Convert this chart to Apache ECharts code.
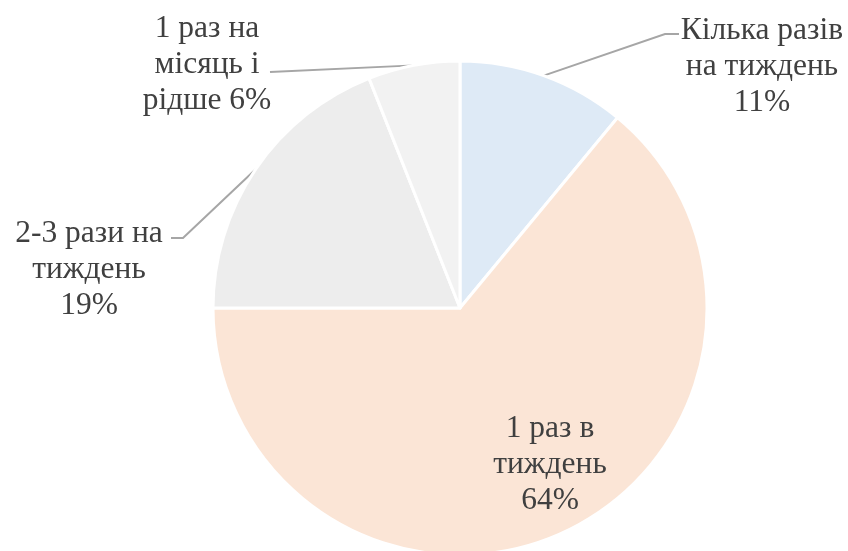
<!DOCTYPE html>
<html>
<head>
<meta charset="utf-8">
<script src="https://cdn.jsdelivr.net/npm/echarts@6/dist/echarts.min.js"></script>
<style>
  html, body { margin: 0; padding: 0; background: #ffffff; }
  #chart { width: 848px; height: 551px; }
</style>
</head>
<body>
<div id="chart"></div>
<script>
// Survey shares: how often respondents do it
const categories = ['Кілька разів на тиждень', '1 раз в тиждень', '2-3 рази на тиждень', '1 раз на місяць і рідше'];
const shares = [11, 64, 19, 6];
// Label wording with the line breaks used on the chart
const labelTexts = ['Кілька разів\nна тиждень\n', '1 раз в\nтиждень\n', '2-3 рази на\nтиждень\n', '1 раз на\nмісяць і\nрідше '];
const colors = ['#DEEAF6', '#FBE5D6', '#EDEDED', '#F2F2F2'];

// Where each label sits and where its leader line bends
const labelSpots = [
  { x: 762, y: 67, bend: [[665, 34], [679, 34]] },
  { x: 550, y: 465, bend: null },
  { x: 89, y: 270, bend: [[183, 238], [171, 238]] },
  { x: 207, y: 65, bend: [[270, 72]] }
];

const chart = echarts.init(document.getElementById('chart'), null, { renderer: 'canvas' });

chart.setOption({
  animation: false,
  backgroundColor: '#ffffff',
  series: [{
    type: 'pie',
    center: [460, 308],
    radius: [0, 247],
    startAngle: 90,
    clockwise: true,
    avoidLabelOverlap: false,
    itemStyle: { borderColor: '#ffffff', borderWidth: 3 },
    label: {
      show: true,
      position: 'outside',
      fontFamily: '"Liberation Serif", "Times New Roman", serif',
      fontSize: 31.5,
      lineHeight: 36,
      color: '#404040',
      align: 'center',
      formatter: p => labelTexts[p.dataIndex] + p.value + '%'
    },
    labelLine: {
      show: true,
      length: 20,
      length2: 20,
      lineStyle: { color: '#a6a6a6', width: 2 }
    },
    labelLayout: params => {
      const spot = labelSpots[params.dataIndex];
      const out = { x: spot.x, y: spot.y, align: 'center', verticalAlign: 'middle' };
      if (spot.bend && params.labelLinePoints) {
        out.labelLinePoints = [params.labelLinePoints[0]].concat(spot.bend);
        if (out.labelLinePoints.length === 2) {
          out.labelLinePoints.push(spot.bend[0]);
        }
      }
      return out;
    },
    data: categories.map((name, i) => ({
      name: name,
      value: shares[i],
      itemStyle: { color: colors[i] },
      label: i === 1 ? { position: 'inside' } : undefined,
      labelLine: i === 1 ? { show: false } : undefined
    }))
  }]
});
</script>
</body>
</html>
